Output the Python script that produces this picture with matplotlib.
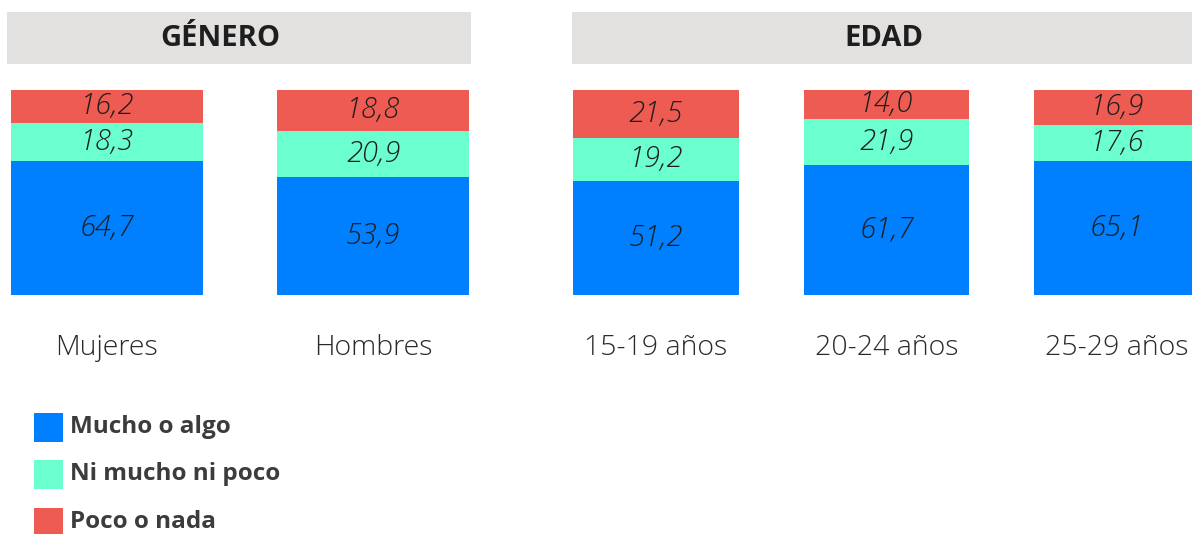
import matplotlib

matplotlib.use("Agg")

import matplotlib.pyplot as plt
import numpy as np
from matplotlib.patches import Rectangle
from matplotlib.transforms import blended_transform_factory

W, H = 1192, 534

series = ["Mucho o algo", "Ni mucho ni poco", "Poco o nada"]
colors = ["#0080ff", "#6bffcf", "#ee5b52"]

genero_labels = ["Mujeres", "Hombres"]
genero_mucho = [64.7, 53.9]
genero_ni = [18.3, 20.9]
genero_poco = [16.2, 18.8]

edad_labels = ["15-19 años", "20-24 años", "25-29 años"]
edad_mucho = [51.2, 61.7, 65.1]
edad_ni = [19.2, 21.9, 17.6]
edad_poco = [21.5, 14.0, 16.9]

plt.rcParams["font.family"] = ["Open Sans", "DejaVu Sans"]
TEXT = "#1e1e1e"


def fx(px):
    return px / W


def fy(py):
    return 1 - py / H


def header(fig, x0, x1, text, text_x):
    fig.add_artist(Rectangle((fx(x0), fy(64)), fx(x1 - x0), (64 - 12) / H,
                             transform=fig.transFigure, color="#e2e1df", lw=0))
    fig.text(fx(text_x), fy(38), text, ha="center", va="center", fontsize=21,
             fontweight="bold", color=TEXT)


def panel(fig, x0, x1, labels, parts):
    bw = 0.72
    n = len(labels)
    ax = fig.add_axes([fx(x0), fy(295), fx(x1 - x0), 205 / H])
    x = np.arange(n)
    vals = np.array(parts, dtype=float)
    shares = vals / vals.sum(axis=0) * 100
    bottom = np.zeros(n)
    for k in range(len(parts)):
        ax.bar(x, shares[k], bw, bottom=bottom, color=colors[k], lw=0)
        for i in range(n):
            ax.text(x[i], bottom[i] + shares[k][i] / 2, f"{vals[k][i]:.1f}".replace(".", ","),
                    ha="center", va="center", fontsize=21, style="italic",
                    fontweight="light", color=TEXT)
        bottom += shares[k]
    ax.set_xlim(-bw / 2, n - 1 + bw / 2)
    ax.set_ylim(0, 100)
    ax.axis("off")
    trans = blended_transform_factory(ax.transData, ax.transAxes)
    for i, lab in enumerate(labels):
        ax.text(x[i], -(348 - 295) / 205, lab, transform=trans, ha="center", va="center",
                fontsize=20.5, fontweight="light", color="#2a2a2a")
    return ax


fig = plt.figure(figsize=(W / 100, H / 100), dpi=100)

header(fig, 7, 471, "GÉNERO", 220)
header(fig, 572, 1200, "EDAD", 884)

panel(fig, 11, 469, genero_labels, [genero_mucho, genero_ni, genero_poco])
panel(fig, 573, 1200, edad_labels, [edad_mucho, edad_ni, edad_poco])

for k, name in enumerate(series):
    cy = 427 + 47.5 * k
    fig.add_artist(Rectangle((fx(34), fy(cy + 14.5)), fx(29), 29 / H,
                             transform=fig.transFigure, color=colors[k], lw=0))
    fig.text(fx(70), fy(cy), name, ha="left", va="center", fontsize=17.5,
             fontweight="bold", color="#3c3c3c")

fig.savefig("out.png", dpi=100)
